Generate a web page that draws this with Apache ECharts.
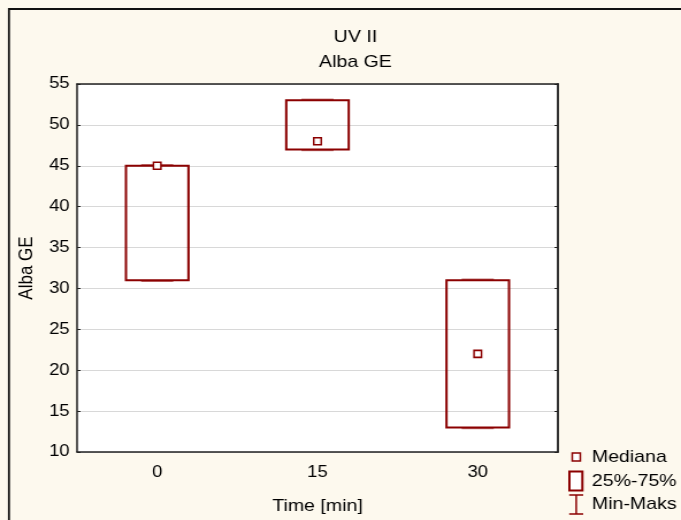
<!DOCTYPE html>
<html>
<head>
<meta charset="utf-8">
<title>UV II - Alba GE</title>
<script src="https://cdn.jsdelivr.net/npm/echarts@6/dist/echarts.min.js"></script>
<style>
  html, body { margin: 0; padding: 0; background: #fdf9ee; overflow: hidden; }
  /* oryginal jest lekko rozciagniety w poziomie */
  #chart { width: 592px; height: 520px; transform: scaleX(1.1503); transform-origin: 0 0; }
</style>
</head>
<body>
<div id="chart"></div>
<script>
// dane
const categories = ['0', '15', '30'];
const mins = [31, 47, 13];
const q1s = [31, 47, 13];
const medians = [45, 48, 22];
const q3s = [45, 53, 31];
const maxs = [45, 53, 31];
const yTicks = [10, 15, 20, 25, 30, 35, 40, 45, 50, 55];

const RED = '#8b0000';
const FONT = "'Liberation Sans', Arial, sans-serif";

const boxData = categories.map((c, i) => [i, mins[i], q1s[i], q3s[i], maxs[i]]);
const medianData = categories.map((c, i) => [i, medians[i]]);

// pudelko 25%-75% + wasy min-maks
function renderBox(params, api) {
  const idx = api.value(0);
  const lo = api.coord([idx, api.value(1)]);
  const q1 = api.coord([idx, api.value(2)]);
  const q3 = api.coord([idx, api.value(3)]);
  const hi = api.coord([idx, api.value(4)]);
  const band = api.size([1, 0])[0];
  const w = band * 0.39;
  const cw = band * 0.2;
  const x = lo[0];
  const capStyle = { stroke: 'rgba(139,0,0,0.55)', lineWidth: 1.5 };
  return {
    type: 'group',
    children: [
      { type: 'line', shape: { x1: x, y1: hi[1], x2: x, y2: q3[1] }, style: capStyle },
      { type: 'line', shape: { x1: x, y1: q1[1], x2: x, y2: lo[1] }, style: capStyle },
      { type: 'line', shape: { x1: x - cw / 2, y1: hi[1] - 1, x2: x + cw / 2, y2: hi[1] - 1 }, style: capStyle },
      { type: 'line', shape: { x1: x - cw / 2, y1: lo[1] + 1, x2: x + cw / 2, y2: lo[1] + 1 }, style: capStyle },
      {
        type: 'rect',
        shape: { x: x - w / 2, y: q3[1], width: w, height: q1[1] - q3[1] },
        style: { fill: 'rgba(255,255,255,0)', stroke: RED, lineWidth: 2 }
      }
    ]
  };
}

const chart = echarts.init(document.getElementById('chart'), null, { renderer: 'canvas' });

const tickStyle = { color: '#000', fontSize: 16, fontFamily: FONT };
const nameStyle = { color: '#000', fontSize: 17, fontFamily: FONT };
const legendFont = '17px ' + FONT;

const option = {
  backgroundColor: '#fdf9ee',
  animation: false,
  title: {
    text: 'UV II',
    subtext: 'Alba GE',
    left: 304,
    top: 24,
    textAlign: 'center',
    itemGap: 8,
    textStyle: { color: '#000', fontSize: 17, fontWeight: 'normal', fontFamily: FONT },
    subtextStyle: { color: '#000', fontSize: 17, fontFamily: FONT }
  },
  grid: {
    left: 67, top: 84, right: 107, bottom: 66,
    show: true, backgroundColor: '#ffffff', borderWidth: 0
  },
  xAxis: [{
    type: 'category',
    data: categories,
    position: 'bottom',
    name: 'Time [min]',
    nameLocation: 'middle',
    nameGap: 46,
    nameTextStyle: nameStyle,
    axisLine: { lineStyle: { color: '#222', width: 1.5 } },
    axisTick: { alignWithLabel: true, inside: true, length: 5, lineStyle: { color: '#222' } },
    axisLabel: Object.assign({ margin: 13 }, tickStyle),
    splitLine: { show: false }
  }, {
    type: 'category',
    data: categories,
    position: 'top',
    axisLine: { lineStyle: { color: '#222', width: 1.5 } },
    axisTick: { alignWithLabel: true, inside: true, length: 5, lineStyle: { color: '#222' } },
    axisLabel: { show: false }
  }],
  yAxis: [{
    type: 'value',
    min: 10, max: 55, interval: 5,
    name: 'Alba GE',
    nameLocation: 'middle',
    nameGap: 30,
    nameTextStyle: nameStyle,
    axisLine: { show: true, lineStyle: { color: '#222', width: 1.5 } },
    axisTick: { show: true, inside: true, length: 3, lineStyle: { color: '#222' } },
    axisLabel: Object.assign({ margin: 6.5, customValues: yTicks }, tickStyle),
    splitLine: { show: true, lineStyle: { color: '#d8d8d8', width: 1 } }
  }, {
    type: 'value',
    min: 10, max: 55, interval: 5,
    position: 'right',
    axisLine: { show: true, lineStyle: { color: '#333', width: 2 } },
    axisTick: { show: true, inside: true, length: 3, lineStyle: { color: '#222' } },
    axisLabel: { show: false },
    splitLine: { show: false }
  }],
  series: [{
    name: '25%-75%',
    type: 'custom',
    renderItem: renderBox,
    encode: { x: 0, y: [1, 2, 3, 4] },
    data: boxData,
    z: 2
  }, {
    name: 'Mediana',
    type: 'scatter',
    symbol: 'rect',
    symbolSize: [6.5, 7],
    itemStyle: { color: '#ffffff', borderColor: RED, borderWidth: 1.5, opacity: 1 },
    data: medianData,
    z: 3
  }],
  graphic: [
    // ramka zewnetrzna
    {
      type: 'rect', z: -10, silent: true,
      shape: { x: 7.8, y: 9, width: 650, height: 600 },
      style: { fill: '#fdf9ee', stroke: '#111', lineWidth: 1.8 }
    },
    // legenda
    { type: 'rect', shape: { x: 497.5, y: 453, width: 7, height: 8 }, style: { fill: '#fff', stroke: RED, lineWidth: 1.5 } },
    { type: 'text', x: 514.5, y: 457, style: { text: 'Mediana', fill: '#000', font: legendFont, textVerticalAlign: 'middle' } },
    { type: 'rect', shape: { x: 495, y: 471.5, width: 11.3, height: 19 }, style: { fill: '#fff', stroke: RED, lineWidth: 2 } },
    { type: 'text', x: 514.5, y: 481, style: { text: '25%-75%', fill: '#000', font: legendFont, textVerticalAlign: 'middle' } },
    { type: 'line', shape: { x1: 494.8, y1: 495, x2: 507, y2: 495 }, style: { stroke: RED, lineWidth: 1.5 } },
    { type: 'line', shape: { x1: 500.9, y1: 495, x2: 500.9, y2: 514 }, style: { stroke: RED, lineWidth: 1.5 } },
    { type: 'line', shape: { x1: 494.8, y1: 514, x2: 507, y2: 514 }, style: { stroke: RED, lineWidth: 1.5 } },
    { type: 'text', x: 514.5, y: 504, style: { text: 'Min-Maks', fill: '#000', font: legendFont, textVerticalAlign: 'middle' } }
  ]
};

chart.setOption(option);
</script>
</body>
</html>
